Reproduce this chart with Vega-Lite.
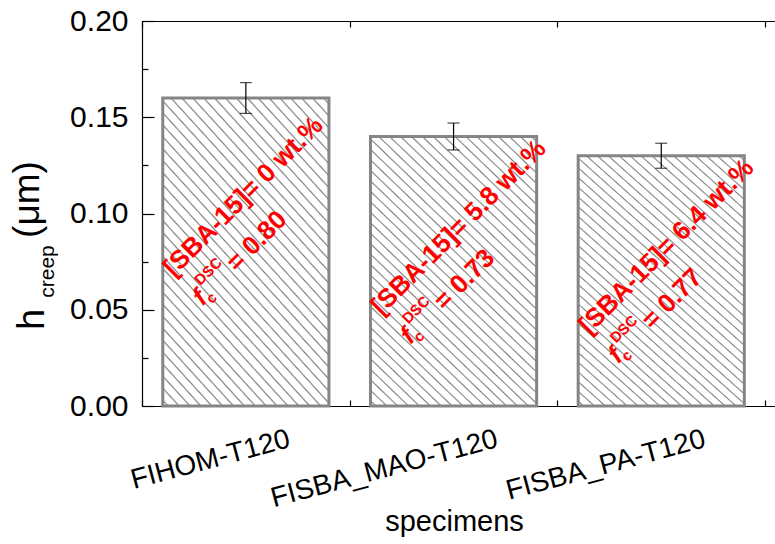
{
  "$schema": "https://vega.github.io/schema/vega-lite/v6.json",
  "autosize": "none",
  "padding": {"left": 142, "top": 21, "right": 0, "bottom": 138},
  "width": 633,
  "height": 385,
  "background": "white",
  "config": {
    "view": {"stroke": null},
    "font": "Liberation Sans",
    "axis": {
      "grid": false,
      "domainColor": "black",
      "domainWidth": 1.2,
      "tickColor": "black",
      "tickWidth": 1.2,
      "labelColor": "black",
      "titleColor": "black",
      "labelFont": "Liberation Sans",
      "titleFont": "Liberation Sans",
      "titleFontWeight": "normal",
      "zindex": 1
    }
  },
  "data": {
    "values": [
      {"specimen": "FIHOM-T120", "h": 0.16, "err": 0.008, "sba": "[SBA-15]= 0 wt.%", "fc": "= 0.80"},
      {"specimen": "FISBA_MAO-T120", "h": 0.14, "err": 0.007, "sba": "[SBA-15]= 5.8 wt.%", "fc": "= 0.73"},
      {"specimen": "FISBA_PA-T120", "h": 0.13, "err": 0.0065, "sba": "[SBA-15]= 6.4 wt.%", "fc": "= 0.77"}
    ]
  },
  "resolve": {"axis": {"x": "independent", "y": "independent"}},
  "layer": [
    {
      "mark": {
        "type": "bar",
        "width": {"band": 0.8},
        "stroke": "#858585",
        "strokeWidth": 3,
        "fill": {
          "gradient": "linear",
          "x1": 0, "y1": 1, "x2": 0.6987, "y2": -0.1786,
          "stops": [
            {"offset":0.0087,"color":"#fff"},{"offset":0.0122,"color":"#808080"},{"offset":0.0157,"color":"#fff"},
            {"offset":0.0331,"color":"#fff"},{"offset":0.0366,"color":"#808080"},{"offset":0.0401,"color":"#fff"},
            {"offset":0.0575,"color":"#fff"},{"offset":0.0610,"color":"#808080"},{"offset":0.0645,"color":"#fff"},
            {"offset":0.0819,"color":"#fff"},{"offset":0.0854,"color":"#808080"},{"offset":0.0889,"color":"#fff"},
            {"offset":0.1063,"color":"#fff"},{"offset":0.1098,"color":"#808080"},{"offset":0.1133,"color":"#fff"},
            {"offset":0.1306,"color":"#fff"},{"offset":0.1341,"color":"#808080"},{"offset":0.1376,"color":"#fff"},
            {"offset":0.1550,"color":"#fff"},{"offset":0.1585,"color":"#808080"},{"offset":0.1620,"color":"#fff"},
            {"offset":0.1794,"color":"#fff"},{"offset":0.1829,"color":"#808080"},{"offset":0.1864,"color":"#fff"},
            {"offset":0.2038,"color":"#fff"},{"offset":0.2073,"color":"#808080"},{"offset":0.2108,"color":"#fff"},
            {"offset":0.2282,"color":"#fff"},{"offset":0.2317,"color":"#808080"},{"offset":0.2352,"color":"#fff"},
            {"offset":0.2526,"color":"#fff"},{"offset":0.2561,"color":"#808080"},{"offset":0.2596,"color":"#fff"},
            {"offset":0.2770,"color":"#fff"},{"offset":0.2805,"color":"#808080"},{"offset":0.2840,"color":"#fff"},
            {"offset":0.3014,"color":"#fff"},{"offset":0.3049,"color":"#808080"},{"offset":0.3084,"color":"#fff"},
            {"offset":0.3258,"color":"#fff"},{"offset":0.3293,"color":"#808080"},{"offset":0.3328,"color":"#fff"},
            {"offset":0.3502,"color":"#fff"},{"offset":0.3537,"color":"#808080"},{"offset":0.3572,"color":"#fff"},
            {"offset":0.3745,"color":"#fff"},{"offset":0.3780,"color":"#808080"},{"offset":0.3815,"color":"#fff"},
            {"offset":0.3989,"color":"#fff"},{"offset":0.4024,"color":"#808080"},{"offset":0.4059,"color":"#fff"},
            {"offset":0.4233,"color":"#fff"},{"offset":0.4268,"color":"#808080"},{"offset":0.4303,"color":"#fff"},
            {"offset":0.4477,"color":"#fff"},{"offset":0.4512,"color":"#808080"},{"offset":0.4547,"color":"#fff"},
            {"offset":0.4721,"color":"#fff"},{"offset":0.4756,"color":"#808080"},{"offset":0.4791,"color":"#fff"},
            {"offset":0.4965,"color":"#fff"},{"offset":0.5000,"color":"#808080"},{"offset":0.5035,"color":"#fff"},
            {"offset":0.5209,"color":"#fff"},{"offset":0.5244,"color":"#808080"},{"offset":0.5279,"color":"#fff"},
            {"offset":0.5453,"color":"#fff"},{"offset":0.5488,"color":"#808080"},{"offset":0.5523,"color":"#fff"},
            {"offset":0.5697,"color":"#fff"},{"offset":0.5732,"color":"#808080"},{"offset":0.5767,"color":"#fff"},
            {"offset":0.5941,"color":"#fff"},{"offset":0.5976,"color":"#808080"},{"offset":0.6011,"color":"#fff"},
            {"offset":0.6185,"color":"#fff"},{"offset":0.6220,"color":"#808080"},{"offset":0.6255,"color":"#fff"},
            {"offset":0.6428,"color":"#fff"},{"offset":0.6463,"color":"#808080"},{"offset":0.6498,"color":"#fff"},
            {"offset":0.6672,"color":"#fff"},{"offset":0.6707,"color":"#808080"},{"offset":0.6742,"color":"#fff"},
            {"offset":0.6916,"color":"#fff"},{"offset":0.6951,"color":"#808080"},{"offset":0.6986,"color":"#fff"},
            {"offset":0.7160,"color":"#fff"},{"offset":0.7195,"color":"#808080"},{"offset":0.7230,"color":"#fff"},
            {"offset":0.7404,"color":"#fff"},{"offset":0.7439,"color":"#808080"},{"offset":0.7474,"color":"#fff"},
            {"offset":0.7648,"color":"#fff"},{"offset":0.7683,"color":"#808080"},{"offset":0.7718,"color":"#fff"},
            {"offset":0.7892,"color":"#fff"},{"offset":0.7927,"color":"#808080"},{"offset":0.7962,"color":"#fff"},
            {"offset":0.8136,"color":"#fff"},{"offset":0.8171,"color":"#808080"},{"offset":0.8206,"color":"#fff"},
            {"offset":0.8380,"color":"#fff"},{"offset":0.8415,"color":"#808080"},{"offset":0.8450,"color":"#fff"},
            {"offset":0.8624,"color":"#fff"},{"offset":0.8659,"color":"#808080"},{"offset":0.8694,"color":"#fff"},
            {"offset":0.8867,"color":"#fff"},{"offset":0.8902,"color":"#808080"},{"offset":0.8937,"color":"#fff"},
            {"offset":0.9111,"color":"#fff"},{"offset":0.9146,"color":"#808080"},{"offset":0.9181,"color":"#fff"},
            {"offset":0.9355,"color":"#fff"},{"offset":0.9390,"color":"#808080"},{"offset":0.9425,"color":"#fff"},
            {"offset":0.9599,"color":"#fff"},{"offset":0.9634,"color":"#808080"},{"offset":0.9669,"color":"#fff"},
            {"offset":0.9843,"color":"#fff"},{"offset":0.9878,"color":"#808080"},{"offset":0.9913,"color":"#fff"}
          ]
        }
      },
      "encoding": {
        "x": {
          "field": "specimen", "type": "nominal", "sort": null,
          "scale": {"paddingInner": 0, "paddingOuter": 0.0238, "align": 0},
          "axis": {
            "orient": "bottom",
            "title": "specimens",
            "titleFontSize": 29,
            "titleX": 312,
            "titleY": 124,
            "titleAlign": "center",
            "titleBaseline": "alphabetic",
            "labelAngle": -15,
            "labelAlign": "right",
            "labelBaseline": "top",
            "labelOffset": 40,
            "labelPadding": 31,
            "labelFontSize": 28,
            "labelLimit": 0,
            "labelOverlap": false,
            "tickSize": -12,
            "domain": true
          }
        },
        "y": {
          "field": "h", "type": "quantitative",
          "scale": {"domain": [0, 0.2], "nice": false, "zero": true},
          "axis": {
            "orient": "left",
            "values": [0, 0.05, 0.1, 0.15, 0.2],
            "format": ".2f",
            "labelFontSize": 30,
            "labelPadding": 26,
            "tickSize": -12,
            "title": "h",
            "titleFontSize": 38,
            "titleAngle": -90,
            "titleX": -99,
            "titleY": 298,
            "titleAlign": "center",
            "titleBaseline": "alphabetic"
          }
        }
      }
    },
    {
      "mark": {"type": "errorbar", "color": "black", "thickness": 1.2, "ticks": {"size": 12, "color": "black"}},
      "encoding": {
        "x": {"field": "specimen", "type": "nominal", "sort": null, "axis": null},
        "y": {"field": "h", "type": "quantitative", "axis": null},
        "yError": {"field": "err"}
      }
    },
    {
      "mark": {"type": "text", "angle": -45, "align": "left", "baseline": "alphabetic", "dx": -178, "dy": 76, "fontSize": 26, "fontWeight": "bold", "color": "#ff0000", "font": "Liberation Sans"},
      "encoding": {
        "x": {
          "field": "specimen", "type": "nominal", "sort": null,
          "axis": {"orient": "bottom", "tickBand": "extent", "tickSize": -6, "labels": false, "domain": false, "title": null}
        },
        "y": {
          "field": "h", "type": "quantitative",
          "axis": {
            "orient": "left", "values": [0.025, 0.075, 0.125, 0.175], "tickSize": -6, "labels": false, "domain": false,
            "title": "creep", "titleFontSize": 21, "titleAngle": -90, "titleX": -89, "titleY": 250, "titleAlign": "center", "titleBaseline": "alphabetic"
          }
        },
        "text": {"field": "sba"}
      }
    },
    {
      "mark": {"type": "text", "text": "f", "angle": -45, "align": "left", "baseline": "alphabetic", "dx": -178, "dy": 117, "fontSize": 26, "fontWeight": "bold", "fontStyle": "italic", "color": "#ff0000", "font": "Liberation Sans"},
      "encoding": {
        "x": {
          "field": "specimen", "type": "nominal", "sort": null,
          "axis": {"orient": "top", "tickBand": "extent", "tickSize": -6, "labels": false, "domain": true, "title": null}
        },
        "y": {
          "field": "h", "type": "quantitative",
          "axis": {
            "orient": "left", "ticks": false, "labels": false, "domain": false,
            "title": "(μm)", "titleFontSize": 37, "titleAngle": -90, "titleX": -104, "titleY": 178, "titleAlign": "center", "titleBaseline": "alphabetic"
          }
        }
      }
    },
    {
      "mark": {"type": "text", "text": "c", "angle": -45, "align": "left", "baseline": "alphabetic", "dx": -170, "dy": 122, "fontSize": 15, "fontWeight": "bold", "color": "#ff0000", "font": "Liberation Sans"},
      "encoding": {
        "x": {"field": "specimen", "type": "nominal", "sort": null, "axis": null},
        "y": {"field": "h", "type": "quantitative", "axis": null}
      }
    },
    {
      "mark": {"type": "text", "text": "DSC", "angle": -45, "align": "left", "baseline": "alphabetic", "dx": -165, "dy": 101, "fontSize": 15, "fontWeight": "bold", "color": "#ff0000", "font": "Liberation Sans"},
      "encoding": {
        "x": {"field": "specimen", "type": "nominal", "sort": null, "axis": null},
        "y": {"field": "h", "type": "quantitative", "axis": null}
      }
    },
    {
      "mark": {"type": "text", "angle": -45, "align": "left", "baseline": "alphabetic", "dx": -130, "dy": 117, "fontSize": 26, "fontWeight": "bold", "color": "#ff0000", "font": "Liberation Sans"},
      "encoding": {
        "x": {"field": "specimen", "type": "nominal", "sort": null, "axis": null},
        "y": {"field": "h", "type": "quantitative", "axis": null},
        "text": {"field": "fc"}
      }
    }
  ]
}
